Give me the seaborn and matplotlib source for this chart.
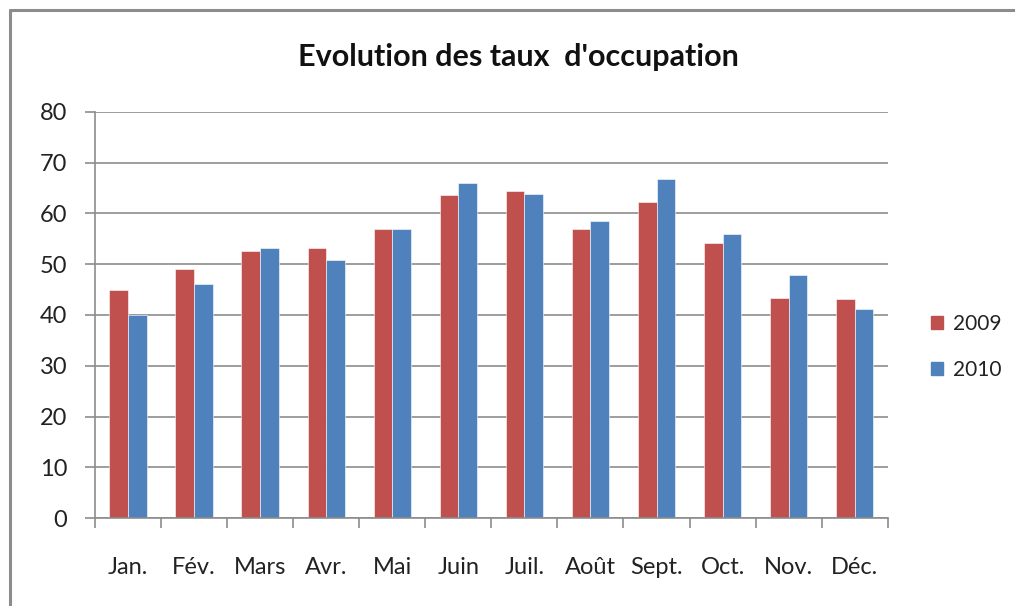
import matplotlib
matplotlib.use("Agg")
import matplotlib.pyplot as plt
import matplotlib.patches as mpatches
from matplotlib.lines import Line2D
import pandas as pd
import seaborn as sns

mois = ["Jan.", "Fév.", "Mars", "Avr.", "Mai", "Juin",
        "Juil.", "Août", "Sept.", "Oct.", "Nov.", "Déc."]
taux_2009 = [45.0, 49.0, 52.6, 53.2, 57.0, 63.6, 64.5, 57.0, 62.2, 54.2, 43.4, 43.1]
taux_2010 = [40.0, 46.2, 53.2, 50.9, 57.0, 66.1, 63.9, 58.6, 66.7, 55.9, 47.8, 41.1]
annees = ["2009", "2010"]
couleurs = ["#C0504D", "#4F81BD"]


def main():
    df = pd.DataFrame({
        "mois": mois * 2,
        "taux": taux_2009 + taux_2010,
        "annee": [annees[0]] * len(mois) + [annees[1]] * len(mois),
    })

    sns.set_style("white")
    plt.rcParams["font.family"] = ["Lato", "DejaVu Sans"]

    fig = plt.figure(figsize=(10.15, 6.06), dpi=100)
    ax = fig.add_axes([0.0936, 0.1452, 0.781, 0.670])

    sns.barplot(data=df, x="mois", y="taux", hue="annee", order=mois,
                palette=couleurs, width=0.565, gap=0, saturation=1,
                edgecolor="white", linewidth=0.4, ax=ax, legend=False)

    ax.set_ylim(0, 80)
    ax.set_xlim(-0.5, 11.5)
    ax.set_yticks(range(0, 81, 10))
    ax.yaxis.grid(True, color="#8c8c8c", linewidth=1.2)
    ax.set_axisbelow(True)
    ax.set_xlabel("")
    ax.set_ylabel("")
    for s in ["top", "right"]:
        ax.spines[s].set_visible(False)
    for s in ["left", "bottom"]:
        ax.spines[s].set_color("#8c8c8c")
        ax.spines[s].set_linewidth(1.2)

    ax.tick_params(axis="y", left=True, length=7, width=1.2, color="#8c8c8c",
                   labelsize=17, pad=13, labelcolor="#222222")
    ax.tick_params(axis="x", bottom=False, length=0, labelsize=17, pad=28,
                   labelcolor="#222222")
    ax.set_xticks([i + 0.5 for i in range(-1, 12)], minor=True)
    ax.tick_params(axis="x", which="minor", bottom=True, length=7, width=1.2,
                   color="#8c8c8c")

    fig.text(0.511, 0.906, "Evolution des taux  d'occupation", ha="center",
             va="center", fontsize=22, fontweight="bold", color="#111111")

    handles = [mpatches.Patch(color=c, label=a) for c, a in zip(couleurs, annees)]
    fig.legend(handles=handles, loc="center left", bbox_to_anchor=(0.917, 0.428),
               frameon=False, fontsize=15, handlelength=0.6, handleheight=0.6,
               handletextpad=0.45, labelspacing=1.25, borderpad=0,
               borderaxespad=0, labelcolor="#222222")

    # cadre du graphique (seulement haut et gauche visibles)
    x0, y0 = 10 / 1015, 1 - 10 / 606
    fig.add_artist(Line2D([x0, 1], [y0, y0], transform=fig.transFigure,
                          color="#8c8c8c", linewidth=2.2))
    fig.add_artist(Line2D([x0, x0], [0, y0], transform=fig.transFigure,
                          color="#8c8c8c", linewidth=2.2))

    fig.savefig("out.png", dpi=100)


if __name__ == "__main__":
    main()
